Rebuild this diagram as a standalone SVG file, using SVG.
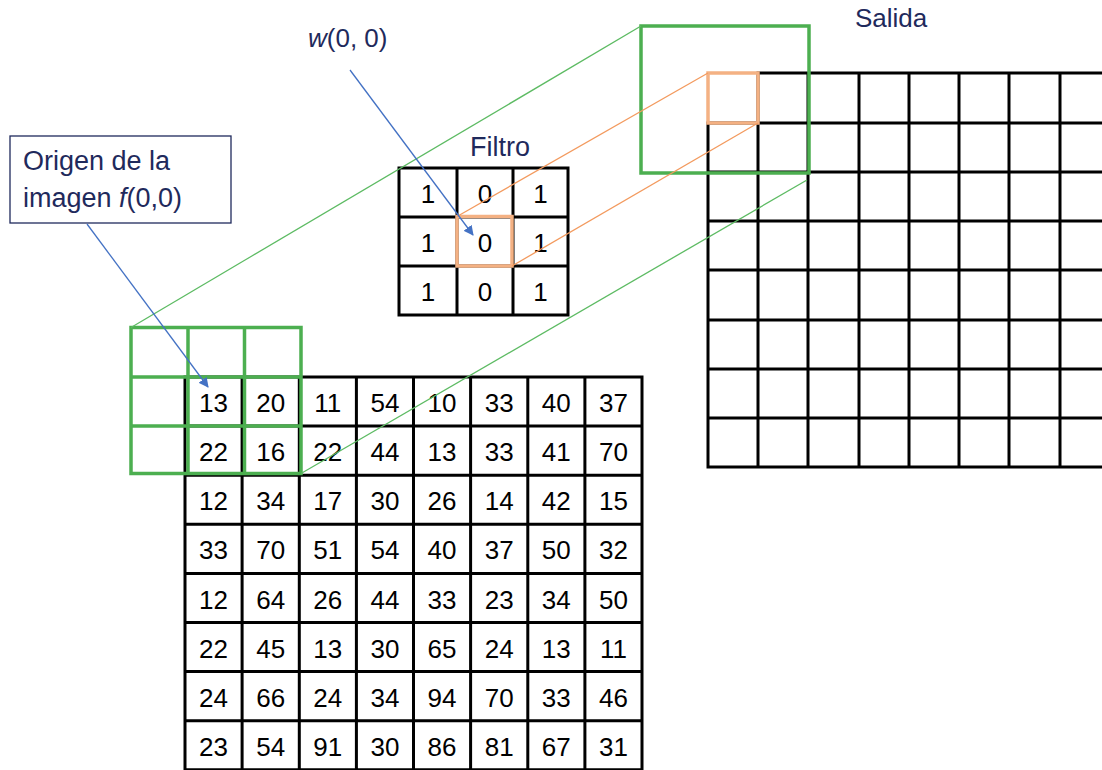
<svg xmlns="http://www.w3.org/2000/svg" width="1102" height="770" viewBox="0 0 1102 770">
<style>
.lbl{font-family:"Liberation Sans",Arial,sans-serif;font-size:26px;fill:#1F2A5C}
.big{font-size:27px}
.num{font-family:"Liberation Sans",Arial,sans-serif;font-size:26px;fill:#000;text-anchor:middle}
.grid{stroke:#000;stroke-width:3;fill:none;stroke-linecap:square}
.gbox{stroke:#4CAF50;stroke-width:3.5;fill:none}
.gline{stroke:#5DBB63;stroke-width:1.3;fill:none}
.oline{stroke:#F39A5E;stroke-width:1.3;fill:none}
.obox{stroke:#F4B183;stroke-width:3.5;fill:none}
.blue{stroke:#4472C4;stroke-width:1.3;fill:none;marker-end:url(#ah)}
</style>
<defs>
<marker id="ah" viewBox="0 0 10 10" refX="9" refY="5" markerWidth="10" markerHeight="10" markerUnits="userSpaceOnUse" orient="auto">
<path d="M0,0 L10,5 L0,10 z" fill="#4472C4"/>
</marker>
</defs>
<rect width="1102" height="770" fill="#fff"/>

<g id="output">
<text class="lbl" x="855" y="27">Salida</text>
<path class="grid" d="M758,73H1102 M708,123H1102 M708,172H1102 M708,221H1102 M708,270H1102 M708,320H1102 M708,369H1102 M708,418H1102 M708,467H1102 M708,123V467 M758,73V467 M808,73V467 M859,73V467 M909,73V467 M959,73V467 M1009,73V467 M1060,73V467"/>
<rect class="obox" x="708" y="73" width="50" height="50"/>
<rect class="gbox" x="641" y="26" width="168" height="147"/>
</g>

<g id="image">
<path class="grid" d="M185,377H642 M185,426.1H642 M185,475.2H642 M185,524.3H642 M185,573.4H642 M185,622.5H642 M185,671.6H642 M185,720.7H642 M185,769.8H642 M185,377V770 M242.1,377V770 M299.3,377V770 M356.4,377V770 M413.5,377V770 M470.6,377V770 M527.8,377V770 M584.9,377V770 M642,377V770"/>
<g class="num">
<text x="213.5" y="412">13</text><text x="270.7" y="412">20</text><text x="327.8" y="412">11</text><text x="385" y="412">54</text><text x="442" y="412">10</text><text x="499.2" y="412">33</text><text x="556.3" y="412">40</text><text x="613.5" y="412">37</text>
<text x="213.5" y="461">22</text><text x="270.7" y="461">16</text><text x="327.8" y="461">22</text><text x="385" y="461">44</text><text x="442" y="461">13</text><text x="499.2" y="461">33</text><text x="556.3" y="461">41</text><text x="613.5" y="461">70</text>
<text x="213.5" y="510">12</text><text x="270.7" y="510">34</text><text x="327.8" y="510">17</text><text x="385" y="510">30</text><text x="442" y="510">26</text><text x="499.2" y="510">14</text><text x="556.3" y="510">42</text><text x="613.5" y="510">15</text>
<text x="213.5" y="559">33</text><text x="270.7" y="559">70</text><text x="327.8" y="559">51</text><text x="385" y="559">54</text><text x="442" y="559">40</text><text x="499.2" y="559">37</text><text x="556.3" y="559">50</text><text x="613.5" y="559">32</text>
<text x="213.5" y="609">12</text><text x="270.7" y="609">64</text><text x="327.8" y="609">26</text><text x="385" y="609">44</text><text x="442" y="609">33</text><text x="499.2" y="609">23</text><text x="556.3" y="609">34</text><text x="613.5" y="609">50</text>
<text x="213.5" y="658">22</text><text x="270.7" y="658">45</text><text x="327.8" y="658">13</text><text x="385" y="658">30</text><text x="442" y="658">65</text><text x="499.2" y="658">24</text><text x="556.3" y="658">13</text><text x="613.5" y="658">11</text>
<text x="213.5" y="707">24</text><text x="270.7" y="707">66</text><text x="327.8" y="707">24</text><text x="385" y="707">34</text><text x="442" y="707">94</text><text x="499.2" y="707">70</text><text x="556.3" y="707">33</text><text x="613.5" y="707">46</text>
<text x="213.5" y="756">23</text><text x="270.7" y="756">54</text><text x="327.8" y="756">91</text><text x="385" y="756">30</text><text x="442" y="756">86</text><text x="499.2" y="756">81</text><text x="556.3" y="756">67</text><text x="613.5" y="756">31</text>
</g>
<path class="gbox" d="M131,327.5H301V473.5H131Z M131,377H301 M131,426H301 M188,327.5V473.5 M244.5,327.5V473.5"/>
</g>

<g id="filter">
<text class="lbl big" x="470" y="156">Filtro</text>
<path class="grid" d="M399,168H568V315H399Z M399,217H568 M399,266H568 M457,168V315 M513,168V315"/>
<g class="num">
<text x="428" y="203">1</text><text x="485" y="203">0</text><text x="540.5" y="203">1</text>
<text x="428" y="252">1</text><text x="485" y="252">0</text><text x="540.5" y="252">1</text>
<text x="428" y="301">1</text><text x="485" y="301">0</text><text x="540.5" y="301">1</text>
</g>
<rect class="obox" x="457" y="216.5" width="55" height="49.5"/>
</g>

<g id="label-origen">
<rect x="10" y="136" width="221" height="87" fill="#fff" stroke="#1F2A5C" stroke-width="1.3"/>
<text class="lbl big" x="23" y="170">Origen de la</text>
<text class="lbl big" x="23" y="207">imagen <tspan font-style="italic">f</tspan>(0,0)</text>
</g>

<g id="label-w">
<text class="lbl" x="308" y="47"><tspan font-style="italic">w</tspan>(0, 0)</text>
</g>

<g id="connectors">
<line class="gline" x1="131" y1="327.5" x2="641" y2="26"/>
<line class="gline" x1="301" y1="473.5" x2="807" y2="180"/>
<line class="oline" x1="457" y1="216.5" x2="708" y2="73"/>
<line class="oline" x1="512" y1="266" x2="758" y2="123"/>
<line class="blue" x1="87" y1="224" x2="208" y2="387"/>
<line class="blue" x1="350" y1="70" x2="473" y2="235"/>
</g>
</svg>
